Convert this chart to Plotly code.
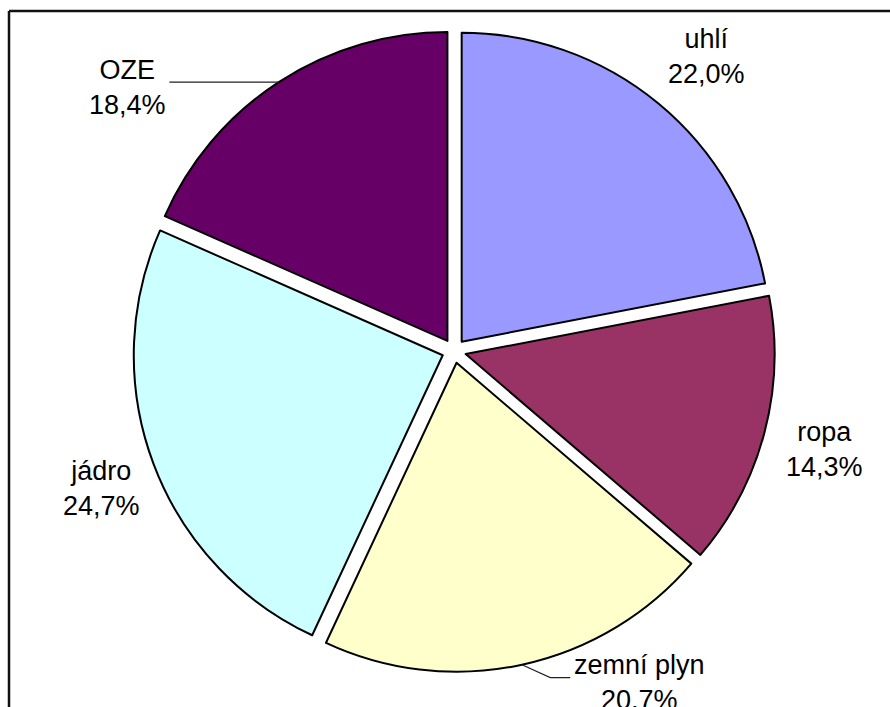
import math
import plotly.graph_objects as go

# ---- data ----
categories = ["uhlí", "ropa", "zemní plyn", "jádro", "OZE"]
values = [22.0, 14.3, 20.7, 24.7, 18.4]
colors = ["#9999FF", "#993366", "#FFFFCC", "#CCFFFF", "#660066"]

# ---- layout / style ----
W, H = 890, 707
CX, CY = 454, 351          # pie centre in pixels
HALF = 321                 # half size of the pie domain box
PULL = 0.039
R = HALF / (1 + PULL)      # plotly radius
FONT = "Liberation Sans, Arial, sans-serif"
FS = 27

# label placement (relative radius, angular turn in degrees) and leader flags
label_radius = [1.255, 1.24, 1.23, 1.225, 1.36]
label_turn = [1.0, 0.0, -17.0, -0.7, -18.0]
label_leader = [False, False, True, False, True]

AW = {"0": .556, "1": .556, "2": .556, "3": .556, "4": .556, "5": .556, "6": .556,
      "7": .556, "8": .556, "9": .556, ",": .278, "%": .889, " ": .278, "z": .5,
      "e": .556, "m": .833, "n": .556, "í": .278, "p": .556, "l": .222, "y": .5,
      "O": .778, "Z": .611, "E": .667, "r": .333, "o": .556, "a": .556, "u": .556,
      "h": .556, "j": .222, "á": .556, "d": .556}


def tw(s):
    return sum(AW.get(c, .556) for c in s) * FS


def px(x):
    return x / W


def py(y):
    return 1 - y / H


fig = go.Figure(go.Pie(
    labels=categories, values=values, sort=False, direction="clockwise",
    rotation=0, pull=[PULL] * len(values),
    marker=dict(colors=colors, line=dict(color="black", width=2)),
    textinfo="none", showlegend=False,
    domain=dict(x=[(CX - HALF) / W, (CX + HALF) / W],
                y=[1 - (CY + HALF) / H, 1 - (CY - HALF) / H]),
))

total = sum(values)
cum = 0.0
annotations = []
shapes = []
for i, (cat, v) in enumerate(zip(categories, values)):
    mid = 360.0 * (cum + v / 2) / total
    cum += v
    pct = f"{v:.1f}".replace(".", ",")
    a = math.radians(mid + label_turn[i])
    rr = label_radius[i] * R
    lx = CX + rr * math.sin(a)
    ly = CY - rr * math.cos(a)
    annotations.append(dict(
        x=px(lx), y=py(ly), xref="paper", yref="paper",
        text=f"{cat}<br>{pct}%", showarrow=False,
        xanchor="center", yanchor="middle",
        font=dict(family=FONT, size=FS, color="black"),
    ))
    if label_leader[i]:
        m = math.radians(mid)
        ex = CX + R * (1 + PULL) * math.sin(m)
        ey = CY - R * (1 + PULL) * math.cos(m)
        half_w = max(tw(cat), tw(pct + "%")) / 2
        if lx < ex:
            endx = lx + half_w + 4
            elbx = endx + 20
        else:
            endx = lx - half_w - 4
            elbx = endx - 20
        endy = ly - 5
        shapes.append(dict(type="path", xref="paper", yref="paper",
                           path=f"M {px(ex)} {py(ey)} L {px(elbx)} {py(endy)} L {px(endx)} {py(endy)}",
                           line=dict(color="#222", width=1.2)))

# chart-area frame (extends beyond the picture on right and bottom)
shapes.append(dict(type="line", xref="paper", yref="paper",
                   x0=px(9), y0=py(11), x1=px(W + 5), y1=py(11),
                   line=dict(color="#111", width=2.5)))
shapes.append(dict(type="line", xref="paper", yref="paper",
                   x0=px(9), y0=py(11), x1=px(9), y1=py(H + 5),
                   line=dict(color="#111", width=2.5)))

fig.update_layout(
    width=W, height=H, margin=dict(l=0, r=0, t=0, b=0),
    paper_bgcolor="white", plot_bgcolor="white",
    annotations=annotations, shapes=shapes,
    font=dict(family=FONT, size=FS),
)

fig.write_html("out.html", config={"displayModeBar": False},
               post_script="document.body.style.margin='0';document.body.style.overflow='hidden';")
